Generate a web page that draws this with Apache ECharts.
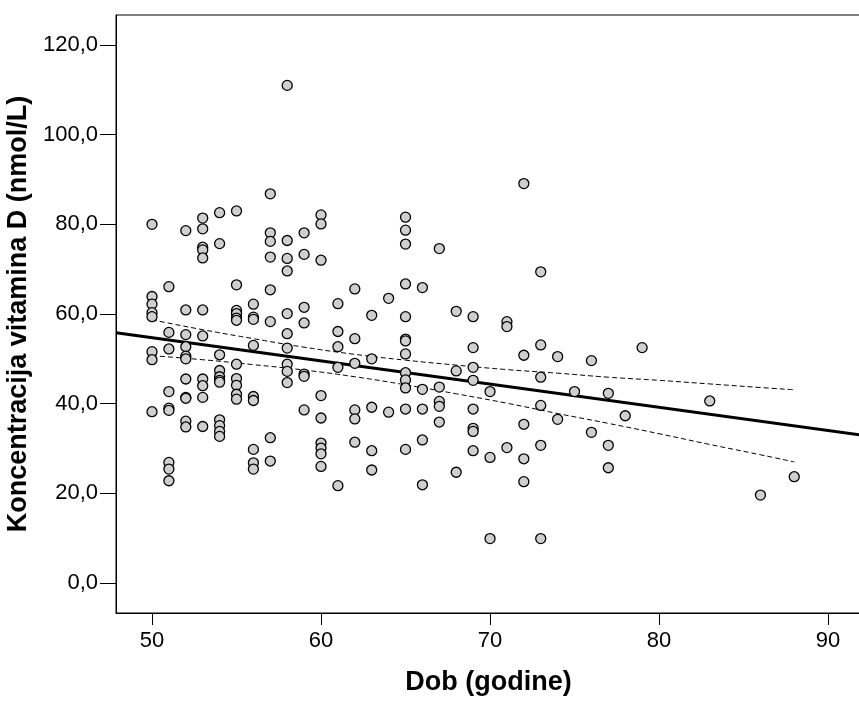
<!DOCTYPE html>
<html><head><meta charset="utf-8">
<script src="https://cdn.jsdelivr.net/npm/echarts@6/dist/echarts.min.js"></script>
<style>html,body{margin:0;padding:0;background:#fff}#c{width:859px;height:702px}</style>
</head><body><div id="c"></div>
<script>
// Age categories (years) and the vitamin D values observed at each age
const ages = [50,51,52,53,54,55,56,57,58,59,60,61,62,63,64,65,66,67,68,69,70,71,72,73,74,75,76,77,78,79,83,86,88];
const values = [
  [80.0,63.9,62.2,60.3,59.4,51.6,49.8,38.2],
  [66.1,55.9,52.2,42.7,39.0,38.5,26.9,25.4,22.8],
  [78.6,60.9,55.4,52.7,50.6,50.0,45.5,41.4,41.2,36.1,34.8],
  [81.4,79.0,74.9,74.3,72.5,60.9,55.1,45.5,44.0,41.4,34.9],
  [82.6,75.7,50.9,47.4,46.0,45.2,44.8,36.4,35.1,33.8,32.7],
  [83.0,66.5,60.8,60.1,59.1,58.6,48.8,45.6,44.1,42.1,41.0],
  [62.2,59.3,58.8,53.0,41.6,40.7,29.8,26.8,25.4],
  [86.8,78.1,76.2,72.7,65.4,58.3,32.4,27.2],
  [111.0,76.4,72.4,69.6,60.1,55.6,52.4,48.8,47.2,44.7],
  [78.1,73.3,61.5,58.0,46.6,46.1,38.6],
  [82.1,80.1,72.0,41.8,36.8,31.2,30.1,28.8,26.0],
  [62.3,56.1,52.7,48.1,21.7],
  [65.6,54.5,49.0,38.6,36.6,31.4],
  [59.7,50.0,39.2,29.5,25.2],
  [63.5,38.1],
  [81.6,78.7,75.6,66.7,59.4,54.4,54.0,51.1,46.9,45.3,43.5,38.8,29.8],
  [65.9,43.2,38.8,31.9,21.9],
  [74.6,43.7,40.5,39.4,35.9],
  [60.6,47.3,24.7],
  [59.4,52.5,48.1,45.2,38.8,34.5,33.8,29.5],
  [42.7,28.0,9.9],
  [58.3,57.2,30.2],
  [89.1,50.8,35.4,27.7,22.6],
  [69.4,53.1,45.9,39.6,30.7,9.9],
  [50.5,36.5],
  [42.7],
  [49.6,33.6],
  [42.3,30.7,25.7],
  [37.3],
  [52.5],
  [40.6],
  [19.6],
  [23.7]
];
// Fit line and 95% confidence band
const fitAge = [47.87, 91.95];
const fitVal = [55.8, 33.0];
const bandAge = [50,53,56,59,62,65,68,71,74,77,80,83,86,88];
const bandUpper = [58.7,56.5,54.5,52.6,51.0,49.7,48.6,47.6,46.8,45.9,45.2,44.4,43.6,43.1];
const bandLower = [50.7,49.8,48.7,47.5,46.0,44.2,42.2,40.1,37.8,35.6,33.3,30.9,28.6,27.0];
const xTicks = [50,60,70,80,90];
const yTicks = [0,20,40,60,80,100,120];

const points = [];
ages.forEach((a, i) => values[i].forEach(v => points.push([a, v])));
const zip = (xs, ys) => xs.map((x, i) => [x, ys[i]]);

const FONT = 'Liberation Sans';
const chart = echarts.init(document.getElementById('c'), null, {renderer: 'canvas'});
chart.setOption({
  animation: false,
  backgroundColor: '#fff',
  grid: {left: 116, top: 15, right: -2, bottom: 89, show: true, borderColor: '#000', borderWidth: 1,
    containLabel: false, outerBoundsMode: 'none'},
  xAxis: {
    type: 'value', min: 47.87, max: 91.95,
    name: 'Dob (godine)', nameLocation: 'middle', nameGap: 56,
    nameTextStyle: {fontFamily: FONT, fontWeight: 'bold', fontSize: 27, color: '#000'},
    axisLine: {show: true, onZero: false, lineStyle: {color: '#000', width: 1}},
    axisTick: {show: true, length: 12, customValues: xTicks, lineStyle: {color: '#000'}},
    axisLabel: {customValues: xTicks, margin: 17, fontFamily: FONT, fontSize: 22, color: '#000'},
    splitLine: {show: false}
  },
  yAxis: {
    type: 'value', min: -6.7, max: 126.7,
    name: 'Koncentracija vitamina D (nmol/L)', nameLocation: 'middle', nameGap: 77,
    nameTextStyle: {fontFamily: FONT, fontWeight: 'bold', fontSize: 27, color: '#000'},
    axisLine: {show: true, onZero: false, lineStyle: {color: '#000', width: 1}},
    axisTick: {show: true, length: 16, customValues: yTicks, lineStyle: {color: '#000'}},
    axisLabel: {customValues: yTicks, margin: 18, fontFamily: FONT, fontSize: 22, color: '#000',
      formatter: v => v.toFixed(1).replace('.', ',')},
    splitLine: {show: false}
  },
  series: [
    {type: 'line', data: zip(fitAge, fitVal), symbol: 'none', z: 2,
      lineStyle: {color: '#000', width: 3}},
    {type: 'line', data: zip(bandAge, bandUpper), symbol: 'none', smooth: true, z: 2,
      lineStyle: {color: '#000', width: 1, type: [5, 3]}},
    {type: 'line', data: zip(bandAge, bandLower), symbol: 'none', smooth: true, z: 2,
      lineStyle: {color: '#000', width: 1, type: [5, 3]}},
    {type: 'scatter', data: points, symbol: 'circle', symbolSize: 10, z: 3,
      itemStyle: {color: '#cfcfcf', borderColor: '#000', borderWidth: 1.3, opacity: 1}}
  ]
});
</script></body></html>
